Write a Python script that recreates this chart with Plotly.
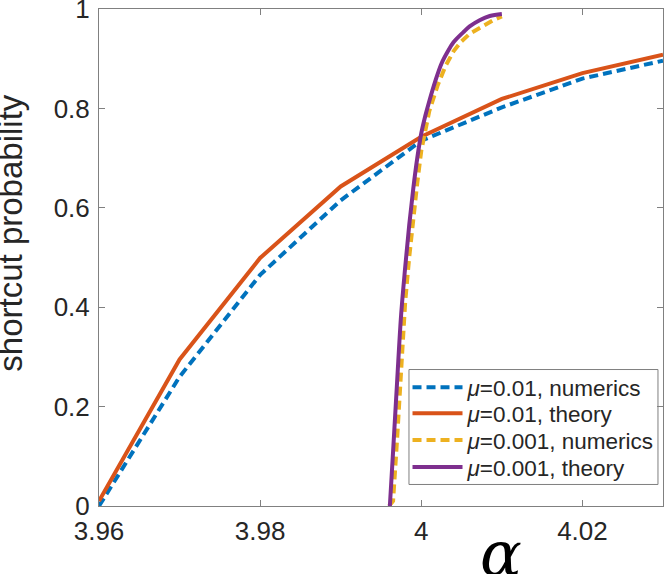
import plotly.graph_objects as go

# --- data ---
alpha_01 = [3.96, 3.97, 3.98, 3.99, 4.00, 4.01, 4.02, 4.03]
num_01 = [0.0, 0.26, 0.465, 0.615, 0.735, 0.802, 0.86, 0.896]
theory_01 = [0.01, 0.295, 0.499, 0.643, 0.743, 0.819, 0.871, 0.908]

alpha_001_num = [3.996, 3.9965, 3.997, 3.9975, 3.998, 3.9985, 3.999, 3.9995, 4.000,
                 4.001, 4.002, 4.003, 4.004, 4.005, 4.006, 4.007, 4.008, 4.009, 4.010]
num_001 = [0.0, 0.01, 0.135, 0.275, 0.41, 0.50, 0.585, 0.65, 0.715,
           0.795, 0.845, 0.885, 0.915, 0.935, 0.95, 0.96, 0.97, 0.978, 0.985]

alpha_001_th = [3.9961, 3.9965, 3.9970, 3.9975, 3.9980, 3.9985, 3.9990, 3.9995, 4.0000,
                4.0005, 4.0010, 4.0017, 4.0025, 4.0033, 4.0040, 4.0052, 4.0060, 4.0073,
                4.0085, 4.0100]
theory_001 = [0.0, 0.11, 0.25, 0.385, 0.48, 0.565, 0.638, 0.70, 0.75,
              0.785, 0.815, 0.853, 0.89, 0.915, 0.933, 0.953, 0.965, 0.978,
              0.986, 0.99]

x_ticks = [3.96, 3.98, 4.0, 4.02]
x_ticktext = ["3.96", "3.98", "4", "4.02"]
y_ticks = [0, 0.2, 0.4, 0.6, 0.8, 1]
y_ticktext = ["0", "0.2", "0.4", "0.6", "0.8", "1"]

# MATLAB default colours
BLUE, ORANGE, YELLOW, PURPLE = "#0072BD", "#D95319", "#EDB120", "#7E2F8E"
AXIS = "#808080"
TEXT = "#262626"
FONT = "Liberation Sans, Arial, sans-serif"
LW = 4

fig = go.Figure()
fig.add_trace(go.Scatter(x=alpha_01, y=num_01, mode="lines",
                         name="<i>μ</i>=0.01, numerics", legend="legend",
                         line=dict(color=BLUE, width=LW, dash="9px,5px")))
fig.add_trace(go.Scatter(x=alpha_01, y=theory_01, mode="lines",
                         name="<i>μ</i>=0.01, theory", legend="legend2",
                         line=dict(color=ORANGE, width=LW)))
fig.add_trace(go.Scatter(x=alpha_001_num, y=num_001, mode="lines",
                         name="<i>μ</i>=0.001, numerics", legend="legend3",
                         line=dict(color=YELLOW, width=LW, dash="9px,5px")))
fig.add_trace(go.Scatter(x=alpha_001_th, y=theory_001, mode="lines",
                         name="<i>μ</i>=0.001, theory", legend="legend4",
                         line=dict(color=PURPLE, width=LW, shape="spline")))

# one legend per entry so the rows can sit as tightly as in the MATLAB box
leg_rows = [0.2384, 0.1861, 0.1318, 0.0775]
leg_style = dict(x=0.547, xanchor="left", yanchor="middle",
                 bgcolor="rgba(0,0,0,0)", borderwidth=0, itemwidth=50,
                 font=dict(size=22.5, color=TEXT, family=FONT))

fig.update_layout(
    width=665, height=574,
    margin=dict(l=99, r=2, t=9, b=68, autoexpand=False),
    paper_bgcolor="white", plot_bgcolor="white",
    font=dict(family=FONT, color=TEXT, size=26),
    showlegend=True,
    legend=dict(y=leg_rows[0], visible=True, **leg_style),
    legend2=dict(y=leg_rows[1], **leg_style),
    legend3=dict(y=leg_rows[2], **leg_style),
    legend4=dict(y=leg_rows[3], **leg_style),
    shapes=[dict(type="rect", xref="paper", yref="paper",
                 x0=0.5496, x1=0.9911, y0=0.0433, y1=0.2746,
                 line=dict(color="#7f7f7f", width=1), fillcolor="white",
                 layer="below")],
    annotations=[
        dict(text="shortcut probability", xref="paper", yref="paper",
             x=-0.156, y=0.548, xanchor="center", yanchor="middle",
             textangle=-90, showarrow=False,
             font=dict(size=33, color=TEXT, family=FONT)),
        dict(text="<i>α</i>", xref="paper", yref="paper",
             x=0.712, y=-0.096, xanchor="center", yanchor="middle",
             showarrow=False,
             font=dict(size=62, color="black", family="DejaVu Serif, serif")),
    ],
)

fig.update_xaxes(
    range=[3.96, 4.03], tickvals=x_ticks, ticktext=x_ticktext,
    showgrid=False, zeroline=False,
    showline=True, linecolor=AXIS, linewidth=1, mirror="ticks",
    ticks="inside", ticklen=6, tickcolor=AXIS, tickwidth=1,
    ticklabelstandoff=2, ticklabeloverflow="allow",
    tickfont=dict(size=26, color=TEXT),
)
fig.update_yaxes(
    range=[0, 1], tickvals=y_ticks, ticktext=y_ticktext,
    showgrid=False, zeroline=False,
    showline=True, linecolor=AXIS, linewidth=1, mirror="ticks",
    ticks="inside", ticklen=6, tickcolor=AXIS, tickwidth=1,
    ticklabelstandoff=3, ticklabeloverflow="allow",
    tickfont=dict(size=26, color=TEXT),
)

# drop the browser's default 8px body margin so the figure sits at the window corner
fig.write_html("out.html", config={"displayModeBar": False},
               post_script="document.body.style.margin='0';")
